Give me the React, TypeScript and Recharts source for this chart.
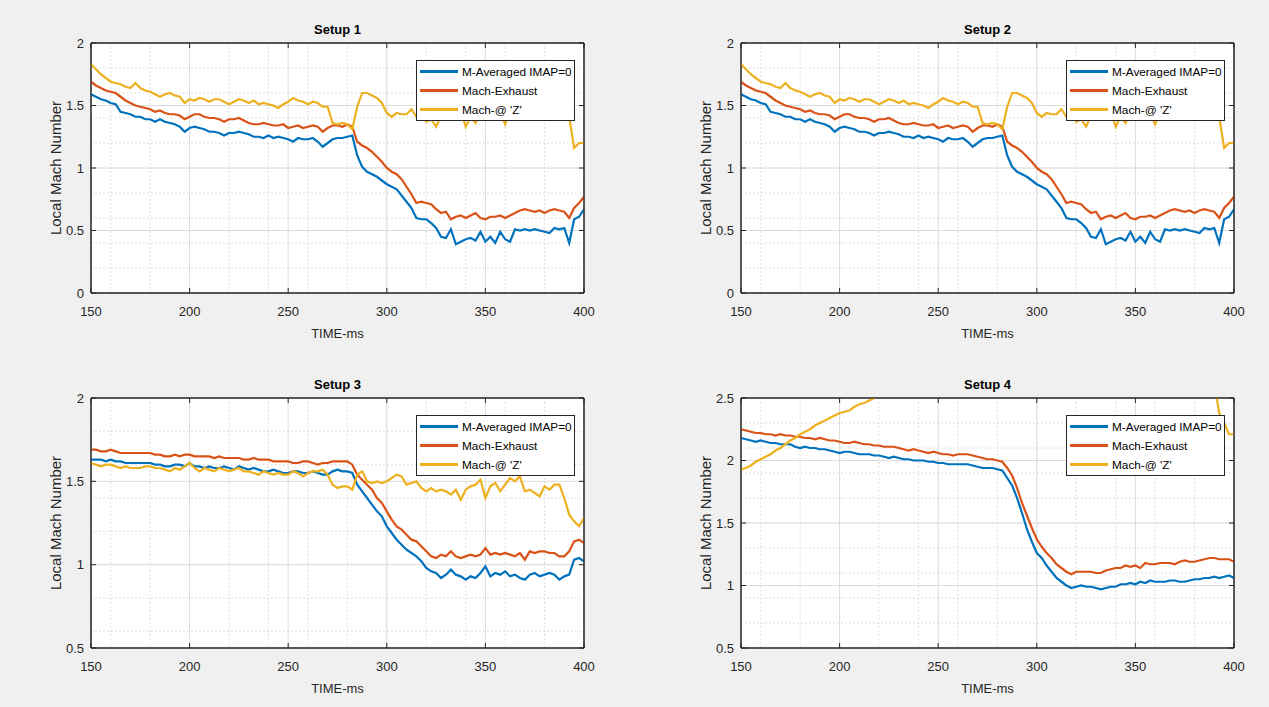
import { LineChart, Line, XAxis, YAxis, CartesianGrid, Legend, ReferenceArea } from 'recharts';

// time axis, 2.5 ms step
const TIME = [
  150, 152.5, 155, 157.5, 160, 162.5, 165, 167.5, 170, 172.5,
  175, 177.5, 180, 182.5, 185, 187.5, 190, 192.5, 195, 197.5,
  200, 202.5, 205, 207.5, 210, 212.5, 215, 217.5, 220, 222.5,
  225, 227.5, 230, 232.5, 235, 237.5, 240, 242.5, 245, 247.5,
  250, 252.5, 255, 257.5, 260, 262.5, 265, 267.5, 270, 272.5,
  275, 277.5, 280, 282.5, 285, 287.5, 290, 292.5, 295, 297.5,
  300, 302.5, 305, 307.5, 310, 312.5, 315, 317.5, 320, 322.5,
  325, 327.5, 330, 332.5, 335, 337.5, 340, 342.5, 345, 347.5,
  350, 352.5, 355, 357.5, 360, 362.5, 365, 367.5, 370, 372.5,
  375, 377.5, 380, 382.5, 385, 387.5, 390, 392.5, 395, 397.5,
  400,
];

// Setup 1 (Setup 2 shows the same curves)
const S1_BLUE = [
  1.59, 1.57, 1.55, 1.54, 1.52, 1.51, 1.45, 1.44, 1.43, 1.41,
  1.41, 1.39, 1.39, 1.37, 1.39, 1.37, 1.36, 1.35, 1.33, 1.29,
  1.32, 1.33, 1.32, 1.31, 1.29, 1.29, 1.28, 1.26, 1.28, 1.28,
  1.29, 1.28, 1.27, 1.25, 1.25, 1.24, 1.26, 1.24, 1.25, 1.24,
  1.23, 1.21, 1.24, 1.23, 1.23, 1.24, 1.21, 1.17, 1.20, 1.23,
  1.24, 1.24, 1.25, 1.26, 1.10, 1.01, 0.97, 0.95, 0.93, 0.90,
  0.87, 0.85, 0.83, 0.78, 0.73, 0.68, 0.60, 0.59, 0.59, 0.56,
  0.52, 0.45, 0.44, 0.51, 0.39, 0.41, 0.43, 0.44, 0.42, 0.49,
  0.41, 0.45, 0.40, 0.49, 0.43, 0.41, 0.51, 0.50, 0.51, 0.50,
  0.51, 0.50, 0.49, 0.48, 0.52, 0.51, 0.52, 0.40, 0.59, 0.61,
  0.67,
];
const S1_RED = [
  1.69, 1.66, 1.64, 1.62, 1.61, 1.60, 1.57, 1.54, 1.52, 1.50,
  1.49, 1.48, 1.47, 1.45, 1.46, 1.44, 1.43, 1.43, 1.42, 1.39,
  1.41, 1.43, 1.43, 1.41, 1.40, 1.40, 1.39, 1.37, 1.39, 1.39,
  1.40, 1.38, 1.36, 1.35, 1.35, 1.36, 1.35, 1.34, 1.34, 1.35,
  1.32, 1.33, 1.34, 1.32, 1.33, 1.34, 1.33, 1.29, 1.32, 1.34,
  1.34, 1.33, 1.35, 1.33, 1.21, 1.18, 1.16, 1.13, 1.09, 1.05,
  1.00, 0.97, 0.95, 0.91, 0.85, 0.79, 0.72, 0.73, 0.72, 0.71,
  0.67, 0.64, 0.65, 0.59, 0.61, 0.62, 0.60, 0.62, 0.64, 0.60,
  0.59, 0.61, 0.61, 0.62, 0.60, 0.62, 0.64, 0.66, 0.67, 0.66,
  0.65, 0.66, 0.64, 0.66, 0.67, 0.66, 0.65, 0.60, 0.68, 0.72,
  0.77,
];
const S1_YELLOW = [
  1.83, 1.79, 1.75, 1.72, 1.69, 1.68, 1.67, 1.65, 1.64, 1.68,
  1.64, 1.62, 1.61, 1.59, 1.57, 1.59, 1.60, 1.58, 1.57, 1.52,
  1.55, 1.54, 1.56, 1.55, 1.53, 1.55, 1.55, 1.53, 1.51, 1.53,
  1.55, 1.54, 1.52, 1.54, 1.51, 1.52, 1.51, 1.50, 1.48, 1.51,
  1.53, 1.56, 1.54, 1.53, 1.51, 1.53, 1.52, 1.49, 1.49, 1.36,
  1.35, 1.36, 1.35, 1.31, 1.49, 1.60, 1.60, 1.58, 1.56, 1.52,
  1.44, 1.41, 1.44, 1.43, 1.43, 1.47, 1.41, 1.48, 1.37, 1.39,
  1.33, 1.42, 1.41, 1.44, 1.43, 1.46, 1.33, 1.41, 1.36, 1.44,
  1.46, 1.45, 1.47, 1.44, 1.35, 1.46, 1.47, 1.45, 1.46, 1.44,
  1.47, 1.45, 1.46, 1.44, 1.47, 1.45, 1.46, 1.41, 1.16, 1.20,
  1.20,
];

// Setup 3
const S3_BLUE = [
  1.63, 1.63, 1.63, 1.62, 1.63, 1.62, 1.62, 1.61, 1.61, 1.61,
  1.61, 1.61, 1.61, 1.60, 1.60, 1.59, 1.59, 1.60, 1.60, 1.59,
  1.61, 1.59, 1.59, 1.58, 1.59, 1.58, 1.58, 1.59, 1.58, 1.57,
  1.59, 1.58, 1.57, 1.58, 1.57, 1.56, 1.56, 1.57, 1.56, 1.55,
  1.55, 1.56, 1.56, 1.55, 1.55, 1.56, 1.55, 1.54, 1.54, 1.56,
  1.57, 1.56, 1.56, 1.55, 1.48, 1.44, 1.40, 1.36, 1.32, 1.29,
  1.23, 1.19, 1.15, 1.12, 1.09, 1.07, 1.05, 1.02, 0.98, 0.96,
  0.95, 0.92, 0.94, 0.97, 0.94, 0.93, 0.91, 0.93, 0.92, 0.95,
  0.99, 0.93, 0.95, 0.94, 0.96, 0.93, 0.94, 0.92, 0.91, 0.94,
  0.95, 0.93, 0.94, 0.95, 0.94, 0.91, 0.93, 0.94, 1.03, 1.04,
  1.02,
];
const S3_RED = [
  1.69, 1.69, 1.68, 1.68, 1.69, 1.68, 1.67, 1.67, 1.67, 1.67,
  1.67, 1.67, 1.67, 1.66, 1.66, 1.65, 1.65, 1.66, 1.65, 1.66,
  1.66, 1.65, 1.65, 1.65, 1.65, 1.64, 1.65, 1.64, 1.64, 1.64,
  1.64, 1.63, 1.63, 1.64, 1.63, 1.63, 1.63, 1.62, 1.62, 1.62,
  1.62, 1.61, 1.61, 1.62, 1.62, 1.61, 1.60, 1.61, 1.61, 1.62,
  1.62, 1.62, 1.62, 1.60, 1.54, 1.51, 1.48, 1.45, 1.40, 1.37,
  1.32, 1.27, 1.23, 1.21, 1.18, 1.15, 1.14, 1.11, 1.08, 1.05,
  1.04, 1.06, 1.05, 1.08, 1.05, 1.04, 1.05, 1.06, 1.05, 1.06,
  1.10, 1.06, 1.07, 1.06, 1.07, 1.06, 1.05, 1.07, 1.03, 1.08,
  1.07, 1.08, 1.08, 1.07, 1.07, 1.05, 1.05, 1.08, 1.14, 1.15,
  1.13,
];
const S3_YELLOW = [
  1.61, 1.60, 1.59, 1.60, 1.60, 1.59, 1.58, 1.59, 1.58, 1.58,
  1.58, 1.59, 1.59, 1.58, 1.58, 1.57, 1.56, 1.58, 1.57, 1.59,
  1.61, 1.58, 1.56, 1.58, 1.57, 1.56, 1.58, 1.57, 1.56, 1.57,
  1.58, 1.56, 1.56, 1.55, 1.54, 1.56, 1.55, 1.54, 1.55, 1.54,
  1.54, 1.56, 1.55, 1.53, 1.55, 1.56, 1.56, 1.57, 1.54, 1.48,
  1.46, 1.47, 1.47, 1.45, 1.54, 1.56, 1.50, 1.49, 1.50, 1.49,
  1.50, 1.52, 1.54, 1.53, 1.48, 1.49, 1.50, 1.46, 1.44, 1.46,
  1.44, 1.45, 1.44, 1.42, 1.45, 1.39, 1.45, 1.47, 1.48, 1.51,
  1.40, 1.47, 1.49, 1.44, 1.48, 1.52, 1.50, 1.53, 1.44, 1.45,
  1.43, 1.41, 1.47, 1.45, 1.48, 1.48, 1.40, 1.30, 1.26, 1.23,
  1.28,
];

// Setup 4 (yellow runs off the top of the axes between ~220 and ~391 ms)
const S4_BLUE = [
  2.18, 2.17, 2.16, 2.15, 2.16, 2.15, 2.14, 2.14, 2.13, 2.13,
  2.13, 2.11, 2.10, 2.11, 2.10, 2.10, 2.09, 2.09, 2.08, 2.07,
  2.06, 2.07, 2.07, 2.06, 2.05, 2.05, 2.05, 2.04, 2.04, 2.03,
  2.02, 2.03, 2.02, 2.01, 2.01, 2.00, 2.00, 2.00, 1.99, 1.99,
  1.98, 1.98, 1.97, 1.97, 1.97, 1.97, 1.97, 1.96, 1.95, 1.94,
  1.94, 1.94, 1.93, 1.92, 1.86, 1.80, 1.70, 1.58, 1.45, 1.35,
  1.26, 1.22, 1.16, 1.11, 1.06, 1.03, 1.00, 0.98, 0.99, 1.00,
  0.99, 0.99, 0.98, 0.97, 0.98, 0.99, 0.99, 1.01, 1.01, 1.02,
  1.01, 1.03, 1.02, 1.04, 1.03, 1.03, 1.03, 1.04, 1.04, 1.03,
  1.03, 1.04, 1.05, 1.05, 1.06, 1.06, 1.07, 1.06, 1.07, 1.08,
  1.06,
];
const S4_RED = [
  2.25, 2.24, 2.23, 2.22, 2.22, 2.21, 2.21, 2.20, 2.21, 2.20,
  2.20, 2.19, 2.19, 2.18, 2.18, 2.17, 2.18, 2.17, 2.16, 2.16,
  2.15, 2.14, 2.14, 2.15, 2.14, 2.13, 2.13, 2.12, 2.12, 2.11,
  2.11, 2.11, 2.10, 2.09, 2.08, 2.09, 2.08, 2.07, 2.06, 2.07,
  2.06, 2.05, 2.05, 2.04, 2.05, 2.05, 2.05, 2.04, 2.03, 2.02,
  2.01, 2.01, 2.00, 1.99, 1.94, 1.88, 1.78, 1.66, 1.56, 1.46,
  1.37, 1.31, 1.26, 1.22, 1.17, 1.14, 1.11, 1.09, 1.11, 1.11,
  1.11, 1.11, 1.10, 1.10, 1.12, 1.13, 1.14, 1.14, 1.16, 1.15,
  1.16, 1.14, 1.18, 1.17, 1.17, 1.18, 1.18, 1.18, 1.17, 1.19,
  1.20, 1.19, 1.19, 1.20, 1.21, 1.22, 1.22, 1.21, 1.21, 1.21,
  1.19,
];
const S4_YELLOW = [
  1.93, 1.94, 1.96, 1.99, 2.01, 2.03, 2.05, 2.08, 2.10, 2.13,
  2.16, 2.18, 2.21, 2.23, 2.25, 2.28, 2.30, 2.32, 2.34, 2.36,
  2.38, 2.39, 2.40, 2.43, 2.45, 2.46, 2.48, 2.50, 2.52, null,
  null, null, null, null, null, null, null, null, null, null,
  null, null, null, null, null, null, null, null, null, null,
  null, null, null, null, null, null, null, null, null, null,
  null, null, null, null, null, null, null, null, null, null,
  null, null, null, null, null, null, null, null, null, null,
  null, null, null, null, null, null, null, null, null, null,
  null, null, null, null, null, null, 2.62, 2.38, 2.30, 2.21,
  2.21,
];

const SERIES_NAMES = ['M-Averaged IMAP=0', 'Mach-Exhaust', "Mach-@ 'Z'"];
const X_TICKS = [150, 200, 250, 300, 350, 400];
const X_MINOR = [
  150, 160, 170, 180, 190, 200, 210, 220, 230, 240, 250, 260, 270,
  280, 290, 300, 310, 320, 330, 340, 350, 360, 370, 380, 390, 400,
];
const Y_TICKS_0_2 = [0, 0.5, 1, 1.5, 2];
const Y_TICKS_05_2 = [0.5, 1, 1.5, 2];
const Y_TICKS_05_25 = [0.5, 1, 1.5, 2, 2.5];

const BLUE = '#0072BD';
const RED = '#D95319';
const YELLOW = '#EDB120';
const AXIS = '#262626';
const FONT = '"Liberation Sans", Arial, Helvetica, sans-serif';

const CHART_W = 557;
const CHART_H = 330;

// minor grid every 0.1
const minorTicks = (lo: number, hi: number) => {
  const out: number[] = [];
  for (let k = Math.round(lo * 10); k <= Math.round(hi * 10); k++) out.push(k / 10);
  return out;
};

const PANELS = [
  { title: 'Setup 1', left: 41, top: 19, blue: S1_BLUE, red: S1_RED, yellow: S1_YELLOW, yDomain: [0, 2], yTicks: Y_TICKS_0_2 },
  { title: 'Setup 2', left: 691, top: 19, blue: S1_BLUE, red: S1_RED, yellow: S1_YELLOW, yDomain: [0, 2], yTicks: Y_TICKS_0_2 },
  { title: 'Setup 3', left: 41, top: 374, blue: S3_BLUE, red: S3_RED, yellow: S3_YELLOW, yDomain: [0.5, 2], yTicks: Y_TICKS_05_2 },
  { title: 'Setup 4', left: 691, top: 374, blue: S4_BLUE, red: S4_RED, yellow: S4_YELLOW, yDomain: [0.5, 2.5], yTicks: Y_TICKS_05_25 },
];

function MatlabLegend({ payload }: any) {
  // keep plotting order, not alphabetical
  const items = [...(payload || [])].sort(
    (a: any, b: any) => SERIES_NAMES.indexOf(a.value) - SERIES_NAMES.indexOf(b.value),
  );
  return (
    <div
      style={{
        background: '#fff',
        border: `1px solid ${AXIS}`,
        width: 157,
        padding: '1px 0',
        fontFamily: FONT,
        fontSize: 11.8,
        color: '#000',
      }}
    >
      {items.map((p: any) => (
        <div key={p.value} style={{ display: 'flex', alignItems: 'center', height: 19 }}>
          <span style={{ display: 'inline-block', width: 38, height: 2.5, background: p.color, margin: '0 4px 0 3px' }} />
          <span style={{ whiteSpace: 'nowrap' }}>{p.value}</span>
        </div>
      ))}
    </div>
  );
}

const noLabel = () => <g />;

function Panel({ cfg }: { cfg: (typeof PANELS)[number] }) {
  const data = TIME.map((t, i) => ({ t, blue: cfg.blue[i], red: cfg.red[i], yellow: cfg.yellow[i] }));
  const tickStyle = { fill: AXIS, fontSize: 13, fontFamily: FONT };

  return (
    <div style={{ position: 'absolute', left: cfg.left, top: cfg.top, width: CHART_W, height: CHART_H }}>
      <div
        style={{
          position: 'absolute',
          left: 50,
          width: CHART_W - 64,
          top: 3,
          textAlign: 'center',
          fontWeight: 'bold',
          fontSize: 13,
          lineHeight: '16px',
          color: '#000',
          fontFamily: FONT,
        }}
      >
        {cfg.title}
      </div>
      <LineChart width={CHART_W} height={CHART_H} data={data} margin={{ top: 23, right: 13, left: 0, bottom: 0 }}>
        {/* minor grid lives on its own hidden axes */}
        <XAxis xAxisId="minor" dataKey="t" type="number" domain={[150, 400]} ticks={X_MINOR} hide />
        <YAxis yAxisId="minor" type="number" domain={cfg.yDomain} ticks={minorTicks(cfg.yDomain[0], cfg.yDomain[1])} hide allowDataOverflow />
        <CartesianGrid xAxisId="minor" yAxisId="minor" stroke="#d6d6d6" strokeDasharray="1.5 2.5" fill="#fff" />
        <CartesianGrid stroke="#dcdcdc" />

        <XAxis
          dataKey="t"
          type="number"
          domain={[150, 400]}
          ticks={X_TICKS}
          height={56}
          stroke={AXIS}
          tickSize={-5}
          tickMargin={19}
          tick={tickStyle}
          label={{ value: 'TIME-ms', position: 'insideBottom', offset: 11, fill: AXIS, fontSize: 13, fontFamily: FONT }}
        />
        {/* mirrored top / right axes: inward ticks only */}
        <XAxis xAxisId="top" orientation="top" dataKey="t" type="number" domain={[150, 400]} ticks={X_TICKS} height={1} stroke={AXIS} tick={noLabel} tickSize={-5} />
        <YAxis
          type="number"
          domain={cfg.yDomain}
          ticks={cfg.yTicks}
          width={50}
          stroke={AXIS}
          tickSize={-5}
          tickMargin={12}
          tick={tickStyle}
          tickFormatter={(v: number) => String(v)}
          allowDataOverflow
          label={{
            value: 'Local Mach Number',
            angle: -90,
            position: 'insideLeft',
            offset: 15,
            fill: AXIS,
            fontSize: 15,
            fontFamily: FONT,
            style: { textAnchor: 'middle' },
          }}
        />
        <YAxis yAxisId="right" orientation="right" type="number" domain={cfg.yDomain} ticks={cfg.yTicks} width={1} stroke={AXIS} tick={noLabel} tickSize={-5} allowDataOverflow />

        <Line dataKey="blue" name={SERIES_NAMES[0]} stroke={BLUE} strokeWidth={2.2} dot={false} isAnimationActive={false} />
        <Line dataKey="red" name={SERIES_NAMES[1]} stroke={RED} strokeWidth={2.2} dot={false} isAnimationActive={false} />
        <Line dataKey="yellow" name={SERIES_NAMES[2]} stroke={YELLOW} strokeWidth={2.2} dot={false} isAnimationActive={false} />

        {/* axes box (MATLAB "box on") */}
        <ReferenceArea x1={150} x2={400} y1={cfg.yDomain[0]} y2={cfg.yDomain[1]} fill="none" stroke={AXIS} strokeWidth={1} ifOverflow="visible" />

        <Legend
          layout="vertical"
          verticalAlign="middle"
          align="center"
          content={MatlabLegend}
          wrapperStyle={{ top: 41, left: 375, width: 'auto' }}
        />
      </LineChart>
    </div>
  );
}

export default function App() {
  return (
    <div
      style={{
        position: 'absolute',
        left: 0,
        top: 0,
        width: 1269,
        height: 707,
        background: '#f0f0f0',
        fontFamily: FONT,
        overflow: 'hidden',
      }}
    >
      {PANELS.map((p) => (
        <Panel key={p.title} cfg={p} />
      ))}
    </div>
  );
}
